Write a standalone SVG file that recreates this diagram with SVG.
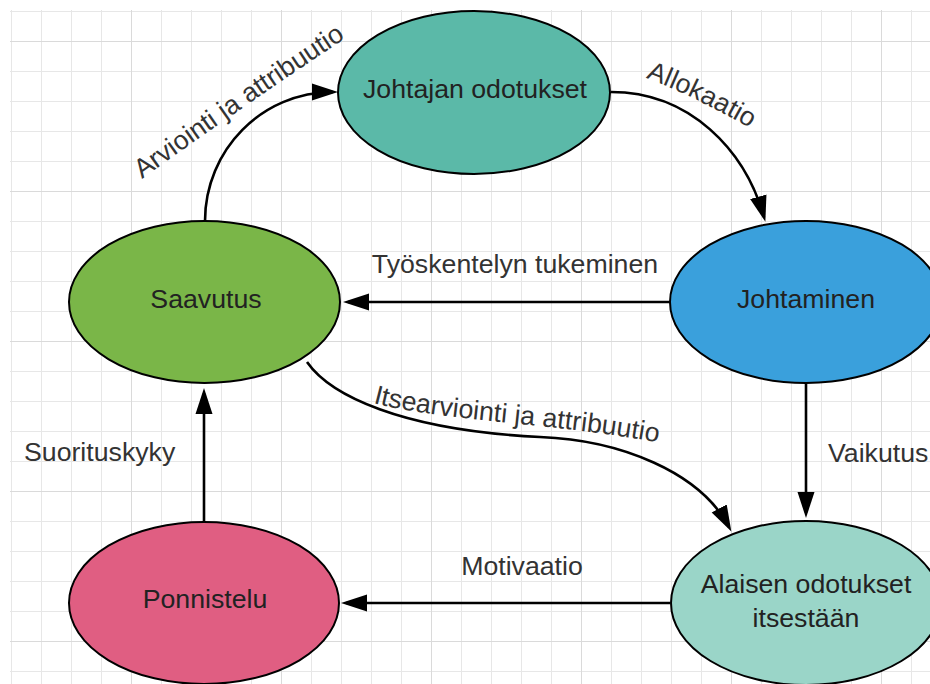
<svg xmlns="http://www.w3.org/2000/svg" xmlns:xlink="http://www.w3.org/1999/xlink" width="930" height="684" viewBox="0 0 930 684">
  <style>
    .node ellipse { stroke: #000; stroke-width: 2; }
    .node text { font-family: "Liberation Sans", Arial, sans-serif; font-size: 26.7px; fill: #222; text-anchor: middle; }
    .edge { fill: none; stroke: #000; stroke-width: 2.6; marker-end: url(#arrow); }
    .label { font-family: "Liberation Sans", Arial, sans-serif; font-size: 26.7px; fill: #333; }
  </style>
  <defs>
    <pattern id="minor" x="11" y="11" width="30" height="30" patternUnits="userSpaceOnUse">
      <path d="M0,0.5 H30 M0.5,0 V30" fill="none" stroke="#e7e7e7" stroke-width="1"/>
    </pattern>
    <pattern id="major" x="131" y="41" width="150" height="150" patternUnits="userSpaceOnUse">
      <path d="M0,0.5 H150 M0.5,0 V150" fill="none" stroke="#dadada" stroke-width="1"/>
    </pattern>
    <marker id="arrow" markerUnits="userSpaceOnUse" markerWidth="28" markerHeight="20" viewBox="0 0 28 20" refX="21" refY="10" orient="auto">
      <path d="M0,1.5 L26,10 L0,18.5 Z" fill="#000"/>
    </marker>
    <!-- baselines for the curved edge labels -->
    <path id="lblArviointi" d="M142,179 Q240,108 352,34"/>
    <path id="lblAllokaatio" d="M646,78 Q695,96 760,134"/>
    <path id="lblItsearviointi" d="M373,403 C440,421 560,423 666,444"/>
  </defs>

  <!-- background grid -->
  <rect width="930" height="684" fill="#fff"/>
  <rect x="10" y="10" width="920" height="674" fill="url(#minor)"/>
  <rect x="10" y="10" width="920" height="674" fill="url(#major)"/>

  <g id="connectors">
    <!-- Saavutus -> Johtajan odotukset -->
    <path class="edge" d="M205,221 C205,150 262,92 333,92"/>
    <!-- Johtajan odotukset -> Johtaminen -->
    <path class="edge" d="M611,92 C690,92 745,150 764,217"/>
    <!-- Johtaminen -> Saavutus -->
    <path class="edge" d="M670,302 L348,302"/>
    <!-- Johtaminen -> Alaisen odotukset -->
    <path class="edge" d="M806,384 L806,513"/>
    <!-- Saavutus -> Alaisen odotukset -->
    <path class="edge" d="M307,362 C330,395 400,430 540,437 C620,440 700,472 729,527"/>
    <!-- Alaisen odotukset -> Ponnistelu -->
    <path class="edge" d="M670,603 L346,603"/>
    <!-- Ponnistelu -> Saavutus -->
    <path class="edge" d="M204,522 L204,393"/>

    <text class="label"><textPath xlink:href="#lblArviointi" href="#lblArviointi">Arviointi ja attribuutio</textPath></text>
    <text class="label"><textPath xlink:href="#lblAllokaatio" href="#lblAllokaatio">Allokaatio</textPath></text>
    <text class="label"><textPath xlink:href="#lblItsearviointi" href="#lblItsearviointi">Itsearviointi ja attribuutio</textPath></text>
    <text class="label" x="515" y="273" text-anchor="middle">Työskentelyn tukeminen</text>
    <text class="label" x="522" y="575" text-anchor="middle">Motivaatio</text>
    <text class="label" x="24" y="461">Suorituskyky</text>
    <text class="label" x="828" y="462">Vaikutus</text>
  </g>

  <g id="johtajan-odotukset" class="node">
    <ellipse cx="474" cy="92.5" rx="136" ry="81.5" fill="#5bb9a8"/>
    <text x="475" y="98">Johtajan odotukset</text>
  </g>
  <g id="johtaminen" class="node">
    <ellipse cx="806" cy="302" rx="136" ry="81" fill="#3aa0dc"/>
    <text x="806" y="308">Johtaminen</text>
  </g>
  <g id="saavutus" class="node">
    <ellipse cx="204.5" cy="302" rx="135.5" ry="81" fill="#7ab648"/>
    <text x="206" y="308">Saavutus</text>
  </g>
  <g id="ponnistelu" class="node">
    <ellipse cx="204" cy="603" rx="135" ry="81" fill="#e05e82"/>
    <text x="205" y="608">Ponnistelu</text>
  </g>
  <g id="alaisen-odotukset" class="node">
    <ellipse cx="806" cy="603" rx="135" ry="82" fill="#9ad5c8"/>
    <text x="806" y="593">Alaisen odotukset</text>
    <text x="806" y="627">itsestään</text>
  </g>
</svg>
